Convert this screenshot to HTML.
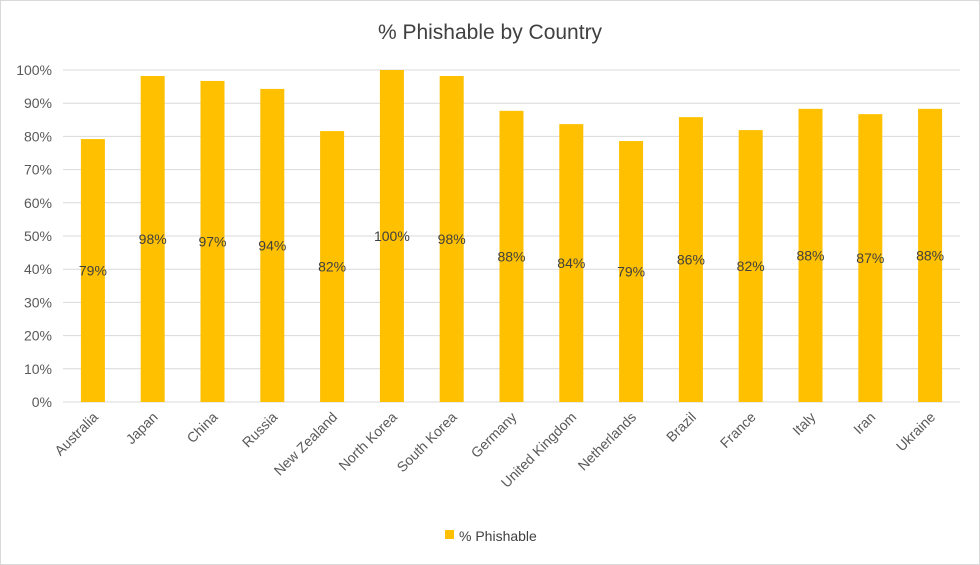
<!DOCTYPE html>
<html><head><meta charset="utf-8"><style>
body{margin:0;background:#fff;}
svg{display:block;font-family:"Liberation Sans",Calibri,sans-serif;}
</style></head><body>
<svg id="chart" width="980" height="565">
<rect x="0.5" y="0.5" width="979" height="564" fill="#fff" stroke="#d9d9d9"/>
<text x="490" y="39" text-anchor="middle" font-size="21" fill="#404040">% Phishable by Country</text>
<g id="grid"></g><g id="bars"></g><g id="ylabels"></g><g id="xlabels"></g>
<rect x="445" y="530" width="9" height="9" fill="#FFC000"/>
<text x="459" y="541" font-size="14" fill="#404040">% Phishable</text>
</svg>
<script>
const categories=["Australia","Japan","China","Russia","New Zealand","North Korea","South Korea","Germany","United Kingdom","Netherlands","Brazil","France","Italy","Iran","Ukraine"];
const values=[79.2,98.2,96.7,94.3,81.6,100,98.2,87.7,83.7,78.6,85.8,81.9,88.3,86.7,88.3];
const valueLabels=["79%","98%","97%","94%","82%","100%","98%","88%","84%","79%","86%","82%","88%","87%","88%"];
const yTicks=[0,10,20,30,40,50,60,70,80,90,100];
const NS="http://www.w3.org/2000/svg";
const y0=402,y1=70,left=63,right=960;
const yScale=v=>y0-(v/100)*(y0-y1);
const step=(right-left)/categories.length;
const xScale=i=>left+step*(i+0.5);
function mk(t,a,p){const e=document.createElementNS(NS,t);for(const k in a)e.setAttribute(k,a[k]);p.appendChild(e);return e;}
const grid=document.getElementById('grid'),bars=document.getElementById('bars'),yl=document.getElementById('ylabels'),xl=document.getElementById('xlabels');
yTicks.forEach(t=>{
 const l=mk('line',{x1:left,x2:right,y1:yScale(t),y2:yScale(t),stroke:'#d9d9d9','stroke-width':1},grid);
 
 
 const tx=mk('text',{x:52,y:yScale(t)+5,'text-anchor':'end','font-size':14,fill:'#595959'},yl);
 tx.textContent=t+'%';
 
 
});
categories.forEach((c,i)=>{
 const x=xScale(i),top=yScale(values[i]);
 const r=mk('rect',{x:x-12,y:top,width:24,height:y0-top,fill:'#FFC000'},bars);
 
 
 const vl=mk('text',{x:x,y:(top+y0)/2+5,'text-anchor':'middle','font-size':14,fill:'#404040'},bars);
 vl.textContent=valueLabels[i];
 
 
 const xt=mk('text',{x:x+6,y:418,'text-anchor':'end','font-size':14,fill:'#595959',transform:`rotate(-45 ${x+6} 418)`},xl);
 xt.textContent=c;
 
 
});
</script>
</body></html>
